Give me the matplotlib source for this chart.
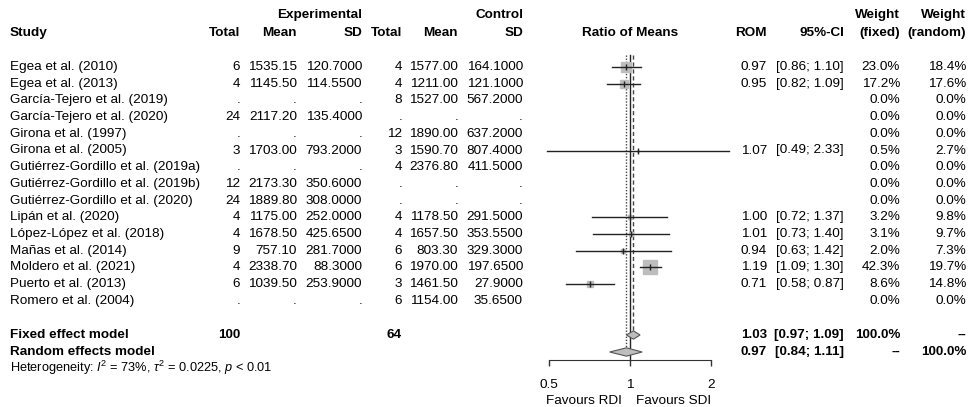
import matplotlib
matplotlib.use("Agg")
import matplotlib.pyplot as plt
from matplotlib.patches import Polygon
import numpy as np

# --- data ---
studies = ["Egea et al. (2010)", "Egea et al. (2013)", "García-Tejero et al. (2019)",
           "García-Tejero et al. (2020)", "Girona et al. (1997)", "Girona et al. (2005)",
           "Gutiérrez-Gordillo et al. (2019a)", "Gutiérrez-Gordillo et al. (2019b)",
           "Gutiérrez-Gordillo et al. (2020)", "Lipán et al. (2020)", "López-López et al. (2018)",
           "Mañas et al. (2014)", "Moldero et al. (2021)", "Puerto et al. (2013)",
           "Romero et al. (2004)"]
exp_n = [6, 4, None, 24, None, 3, None, 12, 24, 4, 4, 9, 4, 6, None]
exp_mean = [1535.15, 1145.50, None, 2117.20, None, 1703.00, None, 2173.30, 1889.80,
            1175.00, 1678.50, 757.10, 2338.70, 1039.50, None]
exp_sd = [120.70, 114.55, None, 135.40, None, 793.20, None, 350.60, 308.00,
          252.00, 425.65, 281.70, 88.30, 253.90, None]
ctrl_n = [4, 4, 8, None, 12, 3, 4, None, None, 4, 4, 6, 6, 3, 6]
ctrl_mean = [1577.00, 1211.00, 1527.00, None, 1890.00, 1590.70, 2376.80, None, None,
             1178.50, 1657.50, 803.30, 1970.00, 1461.50, 1154.00]
ctrl_sd = [164.10, 121.10, 567.20, None, 637.20, 807.40, 411.50, None, None,
           291.50, 353.55, 329.30, 197.65, 27.90, 35.65]
rom = [0.97, 0.95, None, None, None, 1.07, None, None, None, 1.00, 1.01, 0.94, 1.19, 0.71, None]
ci_lo = [0.86, 0.82, None, None, None, 0.49, None, None, None, 0.72, 0.73, 0.63, 1.09, 0.58, None]
ci_hi = [1.10, 1.09, None, None, None, 2.33, None, None, None, 1.37, 1.40, 1.42, 1.30, 0.87, None]
w_fixed = [23.0, 17.2, 0.0, 0.0, 0.0, 0.5, 0.0, 0.0, 0.0, 3.2, 3.1, 2.0, 42.3, 8.6, 0.0]
w_random = [18.4, 17.6, 0.0, 0.0, 0.0, 2.7, 0.0, 0.0, 0.0, 9.8, 9.7, 7.3, 19.7, 14.8, 0.0]

fixed_est, fixed_lo, fixed_hi = 1.03, 0.97, 1.09
random_est, random_lo, random_hi = 0.97, 0.84, 1.11
heterogeneity = r"Heterogeneity: $I^2$ = 73%, $\tau^2$ = 0.0225, $p$ < 0.01"
axis_ticks = [0.5, 1, 2]
label_left, label_right = "Favours RDI", "Favours SDI"

# --- layout (pixels / row units) ---
W, H = 968, 407
ROW0, ROWH = 67.0, 16.7          # pixel y of first study row, row height
def pix2row(p):
    return (p - ROW0) / ROWH
ytop, ybot = pix2row(0), pix2row(H)

plt.rcParams['font.family'] = ['Liberation Sans', 'DejaVu Sans']
plt.rcParams['font.size'] = 9.7
plt.rcParams['mathtext.fontset'] = 'custom'
plt.rcParams['mathtext.rm'] = 'Liberation Sans'
plt.rcParams['mathtext.it'] = 'Liberation Sans:italic'

fig = plt.figure(figsize=(W / 100, H / 100), dpi=100)
fig.patch.set_facecolor("white")

# text axes: x in pixels, y in rows
ax = fig.add_axes([0, 0, 1, 1])
ax.set_xlim(0, W)
ax.set_ylim(ybot, ytop)
ax.axis("off")

# forest axes: log scale, 81 px per doubling, 1 at x=630
xl, xr = 0.4, 2.6
px_l = 630 + 81 * np.log2(xl)
px_r = 630 + 81 * np.log2(xr)
axf = fig.add_axes([px_l / W, 0, (px_r - px_l) / W, 1])
axf.set_xscale("log")
axf.set_xlim(xl, xr)
axf.set_ylim(ybot, ytop)
axf.patch.set_visible(False)
for s in ["top", "left", "right"]:
    axf.spines[s].set_visible(False)
axf.yaxis.set_visible(False)

col_right = {"en": 240, "em": 297, "esd": 362, "cn": 402, "cm": 458, "csd": 523,
             "rom": 767, "ci": 844, "wf": 900, "wr": 966}
STUDY_X = 10

def rtext(x, y, s, bold=False):
    ax.text(x, y, s, ha="right", va="center", fontweight="bold" if bold else "normal")

# headers
hr1, hr2 = pix2row(15), pix2row(33)
rtext(col_right["esd"], hr1, "Experimental", True)
rtext(col_right["csd"], hr1, "Control", True)
rtext(col_right["wf"], hr1, "Weight", True)
rtext(col_right["wr"], hr1, "Weight", True)
ax.text(STUDY_X, hr2, "Study", ha="left", va="center", fontweight="bold")
for key, lab in [("en", "Total"), ("em", "Mean"), ("esd", "SD"), ("cn", "Total"),
                 ("cm", "Mean"), ("csd", "SD"), ("rom", "ROM"), ("ci", "95%-CI"),
                 ("wf", "(fixed)"), ("wr", "(random)")]:
    rtext(col_right[key], hr2, lab, True)
axf.text(1, hr2, "Ratio of Means", ha="center", va="center", fontweight="bold")

def fmt(v, f):
    return "." if v is None else f % v

for i, name in enumerate(studies):
    ax.text(STUDY_X, i, name, ha="left", va="center")
    rtext(col_right["en"], i, fmt(exp_n[i], "%d"))
    rtext(col_right["em"], i, fmt(exp_mean[i], "%.2f"))
    rtext(col_right["esd"], i, fmt(exp_sd[i], "%.4f"))
    rtext(col_right["cn"], i, fmt(ctrl_n[i], "%d"))
    rtext(col_right["cm"], i, fmt(ctrl_mean[i], "%.2f"))
    rtext(col_right["csd"], i, fmt(ctrl_sd[i], "%.4f"))
    if rom[i] is not None:
        rtext(col_right["rom"], i, "%.2f" % rom[i])
        rtext(col_right["ci"], i, "[%.2f; %.2f]" % (ci_lo[i], ci_hi[i]))
    rtext(col_right["wf"], i, "%.1f%%" % w_fixed[i])
    rtext(col_right["wr"], i, "%.1f%%" % w_random[i])

# study markers
for i in range(len(studies)):
    if rom[i] is None:
        continue
    size = 1.55 * np.sqrt(w_fixed[i])
    axf.plot(rom[i], i, marker="s", ms=size, mfc="#bdbdbd", mec="#bdbdbd", ls="none", zorder=2)
    axf.plot([ci_lo[i], ci_hi[i]], [i, i], color="#222222", lw=1.0, zorder=3)
    axf.plot(rom[i], i, marker="|", ms=4.5, color="#222222", mew=1.0, zorder=4)

# summary rows
r_fix, r_ran, r_het = pix2row(335), pix2row(352), pix2row(368)
ax.text(STUDY_X, r_fix, "Fixed effect model", ha="left", va="center", fontweight="bold")
ax.text(STUDY_X, r_ran, "Random effects model", ha="left", va="center", fontweight="bold")
rtext(col_right["en"], r_fix, "%d" % sum(n for n in exp_n if n), True)
rtext(col_right["cn"], r_fix, "%d" % sum(n for n in ctrl_n if n), True)
rtext(col_right["rom"], r_fix, "%.2f" % fixed_est, True)
rtext(col_right["ci"], r_fix, "[%.2f; %.2f]" % (fixed_lo, fixed_hi), True)
rtext(col_right["wf"], r_fix, "100.0%", True)
rtext(col_right["wr"], r_fix, "--", True)
rtext(col_right["rom"], r_ran, "%.2f" % random_est, True)
rtext(col_right["ci"], r_ran, "[%.2f; %.2f]" % (random_lo, random_hi), True)
rtext(col_right["wf"], r_ran, "--", True)
rtext(col_right["wr"], r_ran, "100.0%", True)
ax.text(STUDY_X, r_het, heterogeneity, ha="left", va="center", fontsize=9.2)

dh = 0.25
for est, lo, hi, r in [(fixed_est, fixed_lo, fixed_hi, r_fix), (random_est, random_lo, random_hi, r_ran)]:
    axf.add_patch(Polygon([[lo, r], [est, r - dh], [hi, r], [est, r + dh]], closed=True,
                          fc="#bdbdbd", ec="#555555", lw=0.8, zorder=3))

# reference lines
r_axis = pix2row(360)
r_top = pix2row(55)
axf.plot([1, 1], [r_top, r_axis], color="#222222", lw=1.0, zorder=1)
axf.plot([fixed_est, fixed_est], [r_top, r_fix - dh], color="#444444", lw=1.0, ls=(0, (3, 2)), zorder=1)
axf.plot([random_est, random_est], [r_top, r_ran - dh], color="#444444", lw=1.0, ls=(0, (1, 1.2)), zorder=1)

# x axis
axf.spines["bottom"].set_position(("data", r_axis))
axf.spines["bottom"].set_bounds(axis_ticks[0], axis_ticks[-1])
axf.spines["bottom"].set_color("#333333")
axf.set_xticks(axis_ticks)
axf.set_xticklabels(["%g" % t for t in axis_ticks])
axf.minorticks_off()
axf.tick_params(axis="x", direction="out", length=4.5, width=1.0, color="#333333",
                pad=9, labelsize=9.7)
axf.text(0.93, pix2row(401), label_left, ha="right", va="center")
axf.text(1.0 / 0.93 * 0.98, pix2row(401), label_right, ha="left", va="center")

fig.savefig("out.png", dpi=100, facecolor="white")
